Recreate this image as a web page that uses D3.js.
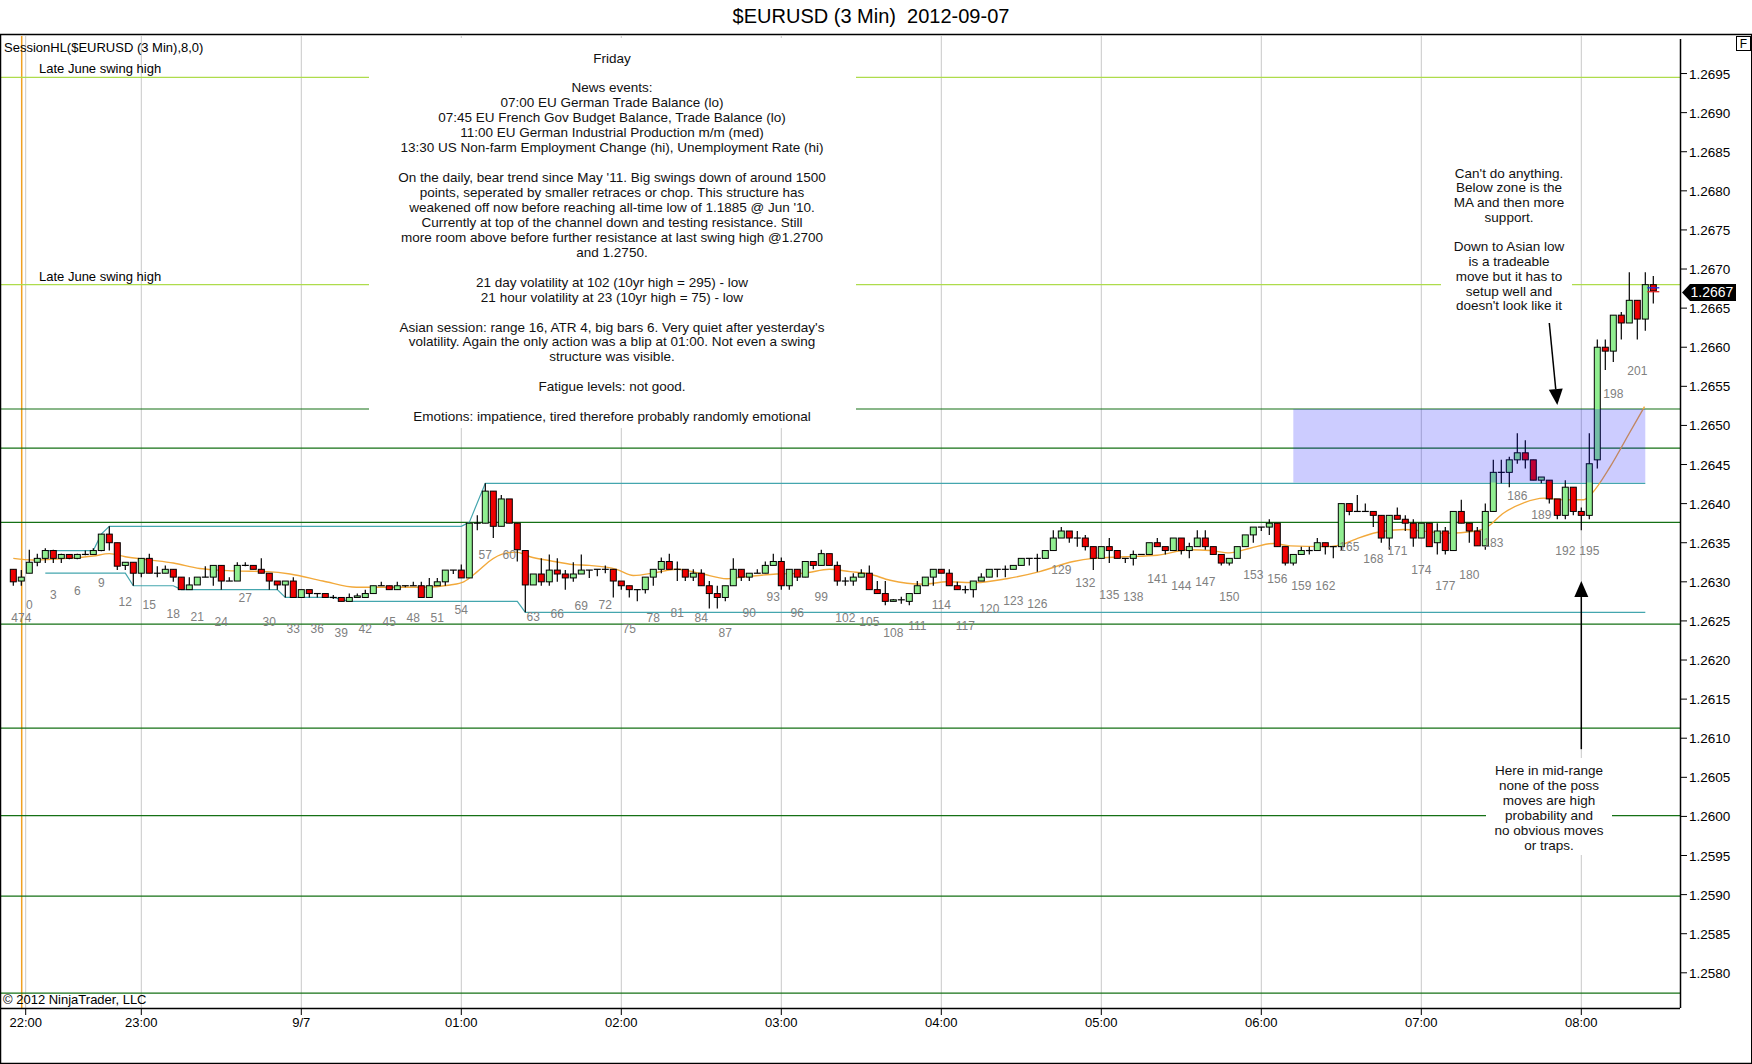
<!DOCTYPE html>
<html>
<head>
<meta charset="utf-8">
<script src="https://cdn.jsdelivr.net/npm/d3@7"></script>
<style>
  body { margin: 0; background: #fff; }
  text { font-family: "Liberation Sans", Arial, sans-serif; }
</style>
</head>
<body>
<div id="chart"></div>
<script>
// 3 min bars, first one is bar -2 (bars 473/474 of the previous session)
const firstBar = -2;

const opens = [
  1.26316,1.26301,1.26311,1.26325,1.26330,1.26340,1.26330,1.26335,1.26330,1.26335,
  1.26335,1.26340,1.26361,1.26350,1.26321,1.26325,1.26311,1.26330,1.26311,1.26311,
  1.26316,1.26306,1.26290,1.26296,1.26306,1.26306,1.26321,1.26301,1.26301,1.26321,
  1.26321,1.26316,1.26311,1.26301,1.26296,1.26301,1.26280,1.26290,1.26285,1.26285,
  1.26280,1.26280,1.26275,1.26280,1.26280,1.26285,1.26295,1.26295,1.26290,1.26295,
  1.26295,1.26295,1.26280,1.26295,1.26300,1.26315,1.26315,1.26305,1.26375,1.26375,
  1.26416,1.26371,1.26406,1.26375,1.26340,1.26296,1.26310,1.26300,1.26315,1.26310,
  1.26305,1.26310,1.26315,1.26316,1.26316,1.26316,1.26301,1.26295,1.26290,1.26290,
  1.26306,1.26316,1.26326,1.26316,1.26316,1.26306,1.26311,1.26295,1.26285,1.26280,
  1.26295,1.26316,1.26306,1.26311,1.26311,1.26321,1.26326,1.26295,1.26316,1.26306,
  1.26326,1.26321,1.26336,1.26321,1.26301,1.26301,1.26306,1.26311,1.26290,1.26285,
  1.26275,1.26277,1.26275,1.26285,1.26295,1.26306,1.26316,1.26311,1.26295,1.26290,
  1.26290,1.26301,1.26306,1.26316,1.26316,1.26316,1.26321,1.26330,1.26330,1.26330,
  1.26340,1.26356,1.26365,1.26356,1.26356,1.26345,1.26330,1.26345,1.26340,1.26330,
  1.26330,1.26335,1.26335,1.26350,1.26345,1.26340,1.26356,1.26340,1.26345,1.26356,
  1.26345,1.26335,1.26324,1.26330,1.26345,1.26360,1.26370,1.26370,1.26375,1.26345,
  1.26324,1.26335,1.26340,1.26340,1.26350,1.26345,1.26345,1.26400,1.26390,1.26390,
  1.26390,1.26385,1.26356,1.26385,1.26380,1.26375,1.26356,1.26375,1.26350,1.26365,
  1.26340,1.26390,1.26375,1.26365,1.26346,1.26390,1.26440,1.26440,1.26456,1.26465,
  1.26456,1.26430,1.26430,1.26406,1.26385,1.26421,1.26390,1.26385,1.26456,1.26600,
  1.26595,1.26641,1.26631,1.26660,1.26636,1.26680
];
const highs = [
  1.26316,1.26315,1.26341,1.26336,1.26343,1.26341,1.26336,1.26335,1.26336,1.26340,
  1.26343,1.26361,1.26371,1.26350,1.26325,1.26325,1.26330,1.26336,1.26320,1.26321,
  1.26316,1.26306,1.26306,1.26306,1.26320,1.26321,1.26321,1.26306,1.26325,1.26325,
  1.26321,1.26330,1.26311,1.26301,1.26301,1.26306,1.26290,1.26290,1.26285,1.26285,
  1.26283,1.26280,1.26285,1.26285,1.26290,1.26295,1.26300,1.26295,1.26300,1.26295,
  1.26300,1.26300,1.26305,1.26305,1.26315,1.26315,1.26322,1.26375,1.26385,1.26426,
  1.26416,1.26411,1.26406,1.26375,1.26340,1.26310,1.26330,1.26335,1.26330,1.26315,
  1.26325,1.26335,1.26315,1.26316,1.26321,1.26316,1.26301,1.26295,1.26290,1.26306,
  1.26316,1.26331,1.26336,1.26326,1.26316,1.26316,1.26316,1.26301,1.26295,1.26295,
  1.26330,1.26316,1.26311,1.26316,1.26326,1.26336,1.26331,1.26316,1.26316,1.26326,
  1.26326,1.26341,1.26336,1.26326,1.26306,1.26311,1.26316,1.26321,1.26301,1.26301,
  1.26278,1.26281,1.26285,1.26301,1.26306,1.26316,1.26316,1.26316,1.26300,1.26295,
  1.26301,1.26311,1.26316,1.26316,1.26321,1.26321,1.26330,1.26330,1.26336,1.26340,
  1.26366,1.26370,1.26365,1.26365,1.26360,1.26345,1.26345,1.26356,1.26340,1.26330,
  1.26340,1.26335,1.26350,1.26356,1.26345,1.26356,1.26356,1.26350,1.26366,1.26366,
  1.26345,1.26335,1.26330,1.26345,1.26360,1.26370,1.26370,1.26380,1.26375,1.26345,
  1.26335,1.26345,1.26345,1.26356,1.26350,1.26345,1.26400,1.26400,1.26411,1.26400,
  1.26390,1.26385,1.26385,1.26395,1.26385,1.26380,1.26375,1.26375,1.26375,1.26370,
  1.26390,1.26405,1.26375,1.26370,1.26400,1.26456,1.26456,1.26460,1.26490,1.26481,
  1.26456,1.26434,1.26430,1.26406,1.26430,1.26421,1.26395,1.26490,1.26610,1.26610,
  1.26641,1.26645,1.26696,1.26660,1.26696,1.26691
];
const lows = [
  1.26295,1.26295,1.26311,1.26320,1.26324,1.26324,1.26324,1.26329,1.26329,1.26334,
  1.26335,1.26339,1.26340,1.26315,1.26315,1.26295,1.26306,1.26311,1.26306,1.26311,
  1.26300,1.26290,1.26290,1.26296,1.26306,1.26295,1.26290,1.26301,1.26301,1.26320,
  1.26316,1.26311,1.26290,1.26290,1.26280,1.26280,1.26280,1.26280,1.26280,1.26280,
  1.26278,1.26275,1.26275,1.26280,1.26280,1.26285,1.26295,1.26290,1.26290,1.26293,
  1.26295,1.26280,1.26280,1.26295,1.26295,1.26310,1.26305,1.26305,1.26366,1.26375,
  1.26356,1.26371,1.26375,1.26326,1.26261,1.26296,1.26295,1.26295,1.26300,1.26290,
  1.26300,1.26310,1.26305,1.26307,1.26311,1.26280,1.26290,1.26280,1.26275,1.26285,
  1.26295,1.26311,1.26316,1.26301,1.26301,1.26301,1.26295,1.26266,1.26266,1.26275,
  1.26295,1.26301,1.26301,1.26311,1.26311,1.26321,1.26290,1.26290,1.26301,1.26306,
  1.26316,1.26321,1.26321,1.26295,1.26295,1.26295,1.26306,1.26290,1.26285,1.26270,
  1.26275,1.26272,1.26270,1.26285,1.26295,1.26295,1.26311,1.26295,1.26290,1.26285,
  1.26280,1.26301,1.26306,1.26306,1.26306,1.26316,1.26321,1.26321,1.26313,1.26330,
  1.26340,1.26356,1.26350,1.26345,1.26340,1.26315,1.26330,1.26324,1.26330,1.26324,
  1.26321,1.26335,1.26335,1.26345,1.26335,1.26340,1.26335,1.26330,1.26345,1.26341,
  1.26335,1.26321,1.26321,1.26330,1.26345,1.26350,1.26365,1.26360,1.26345,1.26321,
  1.26321,1.26335,1.26335,1.26340,1.26335,1.26330,1.26340,1.26385,1.26390,1.26390,
  1.26370,1.26350,1.26341,1.26380,1.26365,1.26345,1.26356,1.26345,1.26335,1.26335,
  1.26340,1.26375,1.26350,1.26346,1.26341,1.26390,1.26426,1.26421,1.26451,1.26445,
  1.26430,1.26426,1.26400,1.26380,1.26380,1.26385,1.26366,1.26380,1.26445,1.26571,
  1.26581,1.26610,1.26631,1.26610,1.26621,1.26656
];
const closes = [
  1.26300,1.26306,1.26325,1.26330,1.26340,1.26330,1.26335,1.26330,1.26335,1.26335,
  1.26340,1.26361,1.26350,1.26320,1.26325,1.26311,1.26330,1.26311,1.26311,1.26316,
  1.26306,1.26290,1.26296,1.26306,1.26306,1.26321,1.26301,1.26301,1.26321,1.26321,
  1.26316,1.26311,1.26301,1.26296,1.26301,1.26280,1.26290,1.26285,1.26285,1.26280,
  1.26280,1.26275,1.26280,1.26282,1.26285,1.26295,1.26295,1.26290,1.26295,1.26295,
  1.26295,1.26280,1.26295,1.26300,1.26315,1.26315,1.26305,1.26375,1.26375,1.26416,
  1.26371,1.26406,1.26375,1.26341,1.26296,1.26310,1.26300,1.26315,1.26310,1.26305,
  1.26310,1.26315,1.26315,1.26316,1.26316,1.26301,1.26295,1.26290,1.26290,1.26306,
  1.26316,1.26326,1.26316,1.26316,1.26306,1.26311,1.26295,1.26285,1.26280,1.26295,
  1.26316,1.26306,1.26311,1.26311,1.26321,1.26326,1.26295,1.26316,1.26306,1.26326,
  1.26321,1.26336,1.26321,1.26301,1.26301,1.26306,1.26311,1.26290,1.26285,1.26275,
  1.26277,1.26277,1.26285,1.26295,1.26306,1.26316,1.26311,1.26295,1.26290,1.26290,
  1.26301,1.26306,1.26316,1.26316,1.26316,1.26321,1.26330,1.26330,1.26330,1.26340,
  1.26356,1.26365,1.26356,1.26356,1.26345,1.26330,1.26345,1.26340,1.26330,1.26330,
  1.26335,1.26335,1.26350,1.26345,1.26340,1.26356,1.26340,1.26345,1.26356,1.26345,
  1.26335,1.26324,1.26330,1.26345,1.26360,1.26370,1.26370,1.26375,1.26345,1.26324,
  1.26335,1.26340,1.26340,1.26350,1.26345,1.26345,1.26400,1.26390,1.26390,1.26390,
  1.26385,1.26356,1.26385,1.26380,1.26375,1.26356,1.26375,1.26345,1.26365,1.26340,
  1.26390,1.26375,1.26365,1.26346,1.26390,1.26440,1.26440,1.26456,1.26465,1.26456,
  1.26430,1.26434,1.26406,1.26385,1.26421,1.26390,1.26385,1.26451,1.26600,1.26595,
  1.26641,1.26631,1.26660,1.26636,1.26680,1.26672
];

// bar numbers printed under the bars (bar -1 is "474" of the previous session)
const barNumbers = [0,3,6,9,12,15,18,21,24,27,30,33,36,39,42,45,48,51,54,57,60,63,66,69,72,75,78,81,84,87,90,93,96,99,
  102,105,108,111,114,117,120,123,126,129,132,135,138,141,144,147,150,153,156,159,162,165,168,171,174,177,180,183,186,189,192,195,198,201];
const prevSessionBar = { bar: -1, label: "474" };

// moving average
const maBars = [-2,0.5,4.7,8,10,12,15,18,21.3,25.5,29.7,32.6,36.7,40.9,45,49.2,52.6,54.3,56,57.6,59.3,60.9,62.6,65.1,68,
  70,73.4,75.5,78.4,80.9,83.8,87.2,90,93.4,96.8,100,102.6,105,107.6,111.8,114.7,118.3,122.2,126.3,130.5,133,136.8,141,
  145,147.6,150,152.6,155.5,157.6,161.8,163.8,165.9,168.4,171.8,175,177,180.9,182.2,184.3,186.8,189.3,191.8,194.3,195.3,197.6,200,201.9];
const maValues = [1.26330,1.26328,1.26330,1.26333,1.26336,1.26332,1.26328,1.26324,1.26317,1.26314,1.26313,1.26310,1.26301,1.26293,1.26293,
  1.26293,1.26296,1.26300,1.26313,1.26327,1.26336,1.26338,1.26332,1.26327,1.26322,1.26321,1.26316,1.26308,1.26312,1.26316,
  1.26311,1.26304,1.26307,1.26310,1.26311,1.26316,1.26313,1.26310,1.26302,1.26297,1.26300,1.26299,1.26304,1.26313,1.26326,
  1.26330,1.26332,1.26334,1.26341,1.26340,1.26337,1.26343,1.26349,1.26346,1.26345,1.26347,1.26355,1.26363,1.26367,1.26364,
  1.26362,1.26365,1.26370,1.26388,1.26401,1.26407,1.26405,1.26405,1.26413,1.26447,1.26490,1.26524];

// SessionHL high / low step lines
const sessHighBars = [2, 8, 9, 10, 54, 55, 57, 202];
const sessHighValues = [1.26340, 1.26340, 1.26361, 1.26371, 1.26371, 1.26376, 1.26426, 1.26426];
const sessLowBars = [2, 12, 13, 18, 19, 31, 32, 38, 40, 61, 62, 202];
const sessLowValues = [1.26311, 1.26311, 1.26295, 1.26295, 1.26290, 1.26290, 1.26280, 1.26280, 1.26275, 1.26275, 1.26261, 1.26261];

// drawn levels
const greenLevels = [1.26521, 1.26471, 1.26376, 1.26246, 1.26113, 1.26001, 1.25898, 1.25774];
const swingLevels = [1.26945, 1.26680];
const swingLabel = "Late June swing high";
const zoneBars = [158, 202];
const zonePrices = [1.26521, 1.26427];
const lastPrice = 1.2667;
const bidAsk = [1.26676, 1.26671];

// axes
const priceTicks = [1.2695,1.2690,1.2685,1.2680,1.2675,1.2670,1.2665,1.2660,1.2655,1.2650,1.2645,1.2640,
  1.2635,1.2630,1.2625,1.2620,1.2615,1.2610,1.2605,1.2600,1.2595,1.2590,1.2585,1.2580];
const timeLabels = ["22:00","23:00","9/7","01:00","02:00","03:00","04:00","05:00","06:00","07:00","08:00"];
const timeBars = [-0.45, 14, 34, 54, 74, 94, 114, 134, 154, 174, 194];
const sessionBreakBar = -0.95;

// notes
const noteLines = ["Friday", "", "News events:",
  "07:00 EU German Trade Balance (lo)",
  "07:45 EU French Gov Budget Balance, Trade Balance (lo)",
  "11:00 EU German Industrial Production m/m (med)",
  "13:30 US Non-farm Employment Change (hi), Unemployment Rate (hi)", "",
  "On the daily, bear trend since May '11. Big swings down of around 1500",
  "points, seperated by smaller retraces or chop. This structure has",
  "weakened off now before reaching all-time low of 1.1885 @ Jun '10.",
  "Currently at top of the channel down and testing resistance. Still",
  "more room above before further resistance at last swing high @1.2700",
  "and 1.2750.", "",
  "21 day volatility at 102 (10yr high = 295) - low",
  "21 hour volatility at 23 (10yr high = 75) - low", "",
  "Asian session: range 16, ATR 4, big bars 6. Very quiet after yesterday's",
  "volatility. Again the only action was a blip at 01:00. Not even a swing",
  "structure was visible.", "",
  "Fatigue levels: not good.", "",
  "Emotions: impatience, tired therefore probably randomly emotional"];
const upperNote = ["Can't do anything.", "Below zone is the", "MA and then more", "support.", "",
  "Down to Asian low", "is a tradeable", "move but it has to", "setup well and", "doesn't look like it"];
const lowerNote = ["Here in mid-range", "none of the poss", "moves are high", "probability and", "no obvious moves", "or traps."];
// arrow ends as [bar, price]
const downArrow = [[190, 1.26631], [191, 1.26526]];
const upArrow = [[194, 1.26086], [194, 1.26301]];

function drawChart() {
  const W = 1752, H = 1064;
  const plot = { left: 0, right: 1680, top: 36, bottom: 1008 };

  const svg = d3.select("#chart").append("svg")
    .attr("width", W).attr("height", H)
    .style("display", "block");

  svg.append("rect").attr("width", W).attr("height", H).attr("fill", "#fff");

  const x = d3.scaleLinear().domain([-3.6625, 206.3375]).range([plot.left, plot.right]);
  const y = d3.scaleLinear().domain([1.25755, 1.26998]).range([plot.bottom, plot.top]);

  svg.append("clipPath").attr("id", "clip")
    .append("rect")
    .attr("x", plot.left).attr("y", plot.top)
    .attr("width", plot.right - plot.left).attr("height", plot.bottom - plot.top);

  const g = svg.append("g").attr("clip-path", "url(#clip)");

  // vertical time grid
  g.selectAll(".vgrid").data(timeBars).join("line")
    .attr("x1", d => x(d)).attr("x2", d => x(d))
    .attr("y1", plot.top).attr("y2", plot.bottom)
    .attr("stroke", "#c8c8c8").attr("stroke-width", 1);

  g.append("line")
    .attr("x1", x(sessionBreakBar)).attr("x2", x(sessionBreakBar))
    .attr("y1", plot.top).attr("y2", plot.bottom)
    .attr("stroke", "#f0a020").attr("stroke-width", 1.5);

  // horizontal levels
  g.selectAll(".glevel").data(greenLevels).join("line")
    .attr("x1", plot.left).attr("x2", plot.right)
    .attr("y1", d => y(d)).attr("y2", d => y(d))
    .attr("stroke", "#157015").attr("stroke-width", 1.2);

  g.selectAll(".slevel").data(swingLevels).join("line")
    .attr("x1", plot.left).attr("x2", plot.right)
    .attr("y1", d => y(d)).attr("y2", d => y(d))
    .attr("stroke", "#aedc4c").attr("stroke-width", 1.2);

  // session high / low
  const line = d3.line().x(d => x(d[0])).y(d => y(d[1]));
  g.append("path").datum(d3.zip(sessHighBars, sessHighValues))
    .attr("d", line).attr("fill", "none").attr("stroke", "#44a6ae").attr("stroke-width", 1.2);
  g.append("path").datum(d3.zip(sessLowBars, sessLowValues))
    .attr("d", line).attr("fill", "none").attr("stroke", "#44a6ae").attr("stroke-width", 1.2);

  // moving average
  g.append("path").datum(d3.zip(maBars, maValues))
    .attr("d", line.curve(d3.curveMonotoneX))
    .attr("fill", "none").attr("stroke", "#f2a93b").attr("stroke-width", 1.4);

  // candles
  const bars = opens.map((o, k) => ({ i: firstBar + k, o: o, h: highs[k], l: lows[k], c: closes[k] }));

  g.selectAll(".wick").data(bars).join("line")
    .attr("x1", d => x(d.i)).attr("x2", d => x(d.i))
    .attr("y1", d => y(d.h)).attr("y2", d => y(d.l))
    .attr("stroke", "#000").attr("stroke-width", 1.2);

  g.selectAll(".body").data(bars.filter(d => d.o !== d.c)).join("rect")
    .attr("x", d => x(d.i) - 3).attr("width", 6)
    .attr("y", d => y(Math.max(d.o, d.c)))
    .attr("height", d => Math.max(1, Math.abs(y(d.o) - y(d.c))))
    .attr("fill", d => d.c > d.o ? "#90ee90" : "#ee0000")
    .attr("stroke", "#000").attr("stroke-width", 1);

  g.selectAll(".doji").data(bars.filter(d => d.o === d.c)).join("line")
    .attr("x1", d => x(d.i) - 3.5).attr("x2", d => x(d.i) + 3.5)
    .attr("y1", d => y(d.o)).attr("y2", d => y(d.o))
    .attr("stroke", "#000").attr("stroke-width", 1.2);

  // bid / ask marks on the last bar
  const lastBar = bars[bars.length - 1].i;
  g.selectAll(".bidask").data(bidAsk).join("line")
    .attr("x1", x(lastBar) - 6).attr("x2", x(lastBar) + 6)
    .attr("y1", d => y(d)).attr("y2", d => y(d))
    .attr("stroke", (d, k) => k === 0 ? "#2030e0" : "#e02020").attr("stroke-width", 1.3);

  // zone
  g.append("rect")
    .attr("x", x(zoneBars[0])).attr("width", x(zoneBars[1]) - x(zoneBars[0]))
    .attr("y", y(zonePrices[0])).attr("height", y(zonePrices[1]) - y(zonePrices[0]))
    .attr("fill", "#0000ff").attr("fill-opacity", 0.2);

  // bar numbers
  const numbered = barNumbers.map(n => ({ i: n, label: String(n), low: lows[n - firstBar] }));
  numbered.unshift({ i: prevSessionBar.bar, label: prevSessionBar.label, low: lows[prevSessionBar.bar - firstBar] });
  g.selectAll(".barnum").data(numbered).join("text")
    .attr("x", d => x(d.i)).attr("y", d => y(d.low) + 36)
    .attr("text-anchor", "middle")
    .attr("font-size", 12).attr("fill", "#808080")
    .text(d => d.label);

  // level labels
  g.selectAll(".swinglabel").data(swingLevels).join("text")
    .attr("x", 39).attr("y", d => y(d) - 4)
    .attr("font-size", 13).attr("fill", "#000")
    .text(swingLabel);

  // note boxes
  function noteBox(lines, cx, firstBaseline, step, box) {
    g.append("rect")
      .attr("x", box[0]).attr("y", box[1]).attr("width", box[2]).attr("height", box[3])
      .attr("fill", "#fff");
    g.append("g").selectAll("text").data(lines).join("text")
      .attr("x", cx).attr("y", (d, k) => firstBaseline + k * step)
      .attr("text-anchor", "middle").attr("font-size", 13.5).attr("fill", "#111")
      .text(d => d);
  }
  noteBox(noteLines, 612, 62.6, 14.94, [369, 38, 487, 390]);
  noteBox(upperNote, 1509, 177.5, 14.75, [1441, 163, 131, 151]);
  noteBox(lowerNote, 1549, 774.5, 15, [1486, 758, 126, 97]);

  // arrows
  function arrow(a) {
    const x1 = x(a[0][0]), y1 = y(a[0][1]), x2 = x(a[1][0]), y2 = y(a[1][1]);
    const ang = Math.atan2(y2 - y1, x2 - x1);
    const len = 16, half = 7;
    const bx = x2 - len * Math.cos(ang), by = y2 - len * Math.sin(ang);
    g.append("line").attr("x1", x1).attr("y1", y1).attr("x2", bx).attr("y2", by)
      .attr("stroke", "#000").attr("stroke-width", 1.5);
    g.append("path")
      .attr("d", `M${x2},${y2} L${bx + half * Math.sin(ang)},${by - half * Math.cos(ang)} L${bx - half * Math.sin(ang)},${by + half * Math.cos(ang)} Z`)
      .attr("fill", "#000");
  }
  arrow(downArrow);
  arrow(upArrow);

  // indicator label + copyright
  svg.append("text").attr("x", 4).attr("y", 51.5)
    .attr("font-size", 13).attr("fill", "#000")
    .text("SessionHL($EURUSD (3 Min),8,0)");
  svg.append("text").attr("x", 3).attr("y", 1004)
    .attr("font-size", 13).attr("fill", "#000")
    .text("\u00a9 2012 NinjaTrader, LLC");

  // frame
  svg.append("line").attr("x1", 0).attr("x2", W).attr("y1", 34.5).attr("y2", 34.5)
    .attr("stroke", "#000").attr("stroke-width", 1.5);
  svg.append("line").attr("x1", 0.5).attr("x2", 0.5).attr("y1", 34).attr("y2", H)
    .attr("stroke", "#000").attr("stroke-width", 1.5);
  svg.append("line").attr("x1", W - 0.5).attr("x2", W - 0.5).attr("y1", 34).attr("y2", H)
    .attr("stroke", "#000").attr("stroke-width", 1);
  svg.append("line").attr("x1", 0).attr("x2", W).attr("y1", H - 0.5).attr("y2", H - 0.5)
    .attr("stroke", "#000").attr("stroke-width", 1.5);

  // time axis
  const xAxis = svg.append("g").attr("transform", `translate(0,${plot.bottom})`);
  xAxis.append("line").attr("x1", plot.left).attr("x2", plot.right).attr("y1", 0.5).attr("y2", 0.5)
    .attr("stroke", "#000").attr("stroke-width", 1.5);
  xAxis.selectAll(".tick").data(timeBars).join("line")
    .attr("x1", d => x(d)).attr("x2", d => x(d)).attr("y1", 0).attr("y2", 7)
    .attr("stroke", "#000");
  xAxis.selectAll(".tlabel").data(timeLabels).join("text")
    .attr("x", (d, k) => x(timeBars[k])).attr("y", 19)
    .attr("text-anchor", "middle").attr("font-size", 13).attr("fill", "#000")
    .text(d => d);

  // price axis
  const yAxis = svg.append("g").attr("transform", `translate(${plot.right},0)`);
  yAxis.append("line").attr("x1", 0.5).attr("x2", 0.5).attr("y1", 39).attr("y2", plot.bottom)
    .attr("stroke", "#000").attr("stroke-width", 1.5);
  yAxis.selectAll(".ytick").data(priceTicks).join("line")
    .attr("x1", 1).attr("x2", 7).attr("y1", d => y(d)).attr("y2", d => y(d))
    .attr("stroke", "#000");
  yAxis.selectAll(".ylabel").data(priceTicks).join("text")
    .attr("x", 9).attr("y", d => y(d) + 5)
    .attr("font-size", 13.5).attr("fill", "#000")
    .text(d => d3.format(".4f")(d));

  // last price marker
  const yl = y(lastPrice);
  yAxis.append("path")
    .attr("d", `M2,${yl} L10,${yl - 8.5} L56,${yl - 8.5} L56,${yl + 8.5} L10,${yl + 8.5} Z`)
    .attr("fill", "#000");
  yAxis.append("text").attr("x", 32).attr("y", yl + 5)
    .attr("text-anchor", "middle").attr("font-size", 14).attr("fill", "#fff")
    .text(d3.format(".4f")(lastPrice));

  // "F" box
  svg.append("rect").attr("x", 1736.5).attr("y", 36.5).attr("width", 14).attr("height", 14)
    .attr("fill", "#fff").attr("stroke", "#000");
  svg.append("text").attr("x", 1743.5).attr("y", 48).attr("text-anchor", "middle")
    .attr("font-size", 12).text("F");

  // title
  svg.append("text").attr("x", 871).attr("y", 23)
    .attr("text-anchor", "middle").attr("font-size", 20).attr("fill", "#000")
    .text("$EURUSD (3 Min) \u00a02012-09-07");
}

drawChart();
</script>
</body>
</html>
